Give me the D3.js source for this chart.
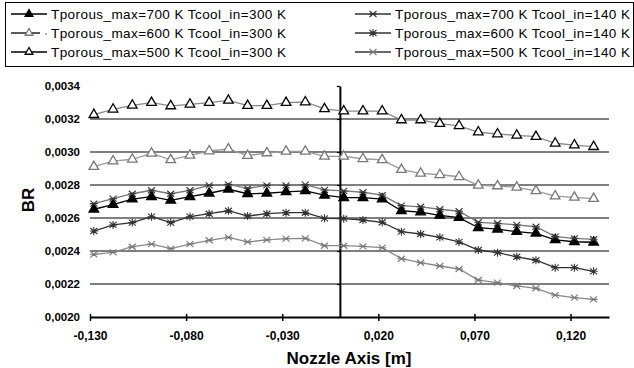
<!DOCTYPE html>
<html><head><meta charset="utf-8">
<script src="https://cdn.jsdelivr.net/npm/d3@7"></script>
<style>html,body{margin:0;padding:0;background:#fff;}svg{display:block;font-family:"Liberation Sans",Arial,sans-serif;}</style>
</head><body>
<svg id="c" width="634" height="368"></svg>
<script>
const xValues = [-0.128,-0.118,-0.108,-0.098,-0.088,-0.078,-0.068,-0.058,-0.048,-0.038,-0.028,-0.018,-0.008,0.002,0.012,0.022,0.032,0.042,0.052,0.062,0.072,0.082,0.092,0.102,0.112,0.122,0.132];
const seriesNames = ["Tporous_max=700 K Tcool_in=300 K","Tporous_max=600 K Tcool_in=300 K","Tporous_max=500 K Tcool_in=300 K","Tporous_max=700 K Tcool_in=140 K","Tporous_max=600 K Tcool_in=140 K","Tporous_max=500 K Tcool_in=140 K"];
const br700_300 = [0.002653,0.002681,0.002715,0.002729,0.002707,0.002729,0.002750,0.002774,0.002747,0.002750,0.002758,0.002764,0.002738,0.002723,0.002723,0.002715,0.002644,0.002636,0.002616,0.002602,0.002541,0.002532,0.002517,0.002507,0.002467,0.002456,0.002453];
const br600_300 = [0.002911,0.002945,0.002956,0.002992,0.002952,0.002980,0.003006,0.003018,0.002978,0.002994,0.003004,0.003004,0.002974,0.002974,0.002959,0.002952,0.002893,0.002871,0.002862,0.002850,0.002798,0.002794,0.002786,0.002764,0.002733,0.002725,0.002717];
const br500_300 = [0.003226,0.003259,0.003283,0.003299,0.003279,0.003289,0.003299,0.003313,0.003281,0.003281,0.003299,0.003303,0.003261,0.003248,0.003248,0.003248,0.003194,0.003194,0.003172,0.003159,0.003121,0.003109,0.003101,0.003093,0.003053,0.003042,0.003032];
const br700_140 = [0.002687,0.002717,0.002747,0.002768,0.002747,0.002768,0.002798,0.002804,0.002780,0.002798,0.002798,0.002802,0.002770,0.002764,0.002756,0.002739,0.002675,0.002668,0.002653,0.002641,0.002574,0.002568,0.002558,0.002547,0.002487,0.002477,0.002471];
const br600_140 = [0.002521,0.002558,0.002572,0.002608,0.002572,0.002608,0.002626,0.002644,0.002612,0.002626,0.002632,0.002632,0.002598,0.002596,0.002588,0.002574,0.002517,0.002503,0.002483,0.002455,0.002406,0.002390,0.002365,0.002344,0.002299,0.002299,0.002277];
const br500_140 = [0.002380,0.002392,0.002426,0.002442,0.002414,0.002442,0.002465,0.002483,0.002455,0.002467,0.002475,0.002477,0.002432,0.002432,0.002428,0.002420,0.002353,0.002329,0.002309,0.002291,0.002224,0.002208,0.002188,0.002174,0.002133,0.002117,0.002107];
const xTicks = [-0.13,-0.08,-0.03,0.02,0.07,0.12];
const yTicks = [0.0020,0.0022,0.0024,0.0026,0.0028,0.0030,0.0032,0.0034];
const xTitle = "Nozzle Axis [m]";
const yTitle = "BR";

const styles = [
  {values: br700_300, line:"#000", marker:"triFill", mstroke:"#000", mfill:"#000"},
  {values: br600_300, line:"#999", marker:"tri", mstroke:"#777", mfill:"#fff", legendBroken:true},
  {values: br500_300, line:"#888", marker:"tri", mstroke:"#000", mfill:"#fff"},
  {values: br700_140, line:"#777", marker:"x", mstroke:"#333", mfill:"none"},
  {values: br600_140, line:"#333", marker:"star", mstroke:"#333", mfill:"none"},
  {values: br500_140, line:"#888", marker:"x", mstroke:"#777", mfill:"none"}
];

const svg = d3.select("#c");
const x = d3.scaleLinear().domain([-0.13, 0.14]).range([90, 609]);
const y = d3.scaleLinear().domain([0.0020, 0.0034]).range([317, 86]);
const loc = d3.formatLocale({decimal:",", thousands:".", grouping:[3], currency:["",""], minus:"-"});

// gridlines
svg.append("g").selectAll("line").data(yTicks.filter(v => v > 0.00201 && v < 0.00339)).join("line")
  .attr("x1", x(-0.13)).attr("x2", x(0.14)).attr("y1", d => y(d)).attr("y2", d => y(d))
  .attr("stroke", "#000").attr("stroke-width", 1.2);

// y labels
const ya = svg.append("g").attr("transform", "translate(80,0)")
  .call(d3.axisLeft(y).tickValues(yTicks).tickFormat(loc.format(".4f")).tickSize(0).tickPadding(0));
ya.select(".domain").remove();
ya.selectAll("text").attr("font-size", 11.5).attr("font-weight", "bold").attr("font-family", "Liberation Sans, Arial, sans-serif").attr("fill","#000");

// x axis
const xa = svg.append("g").attr("transform", `translate(0,${y(0.0020)})`)
  .call(d3.axisBottom(x).tickValues(xTicks).tickFormat(loc.format(".3f")).tickSizeInner(4).tickSizeOuter(0).tickPadding(10));
xa.select(".domain").attr("stroke-width", 2).attr("stroke","#000");
xa.selectAll(".tick line").attr("y1", -3).attr("y2", 4).attr("stroke-width", 1.5);
xa.selectAll("text").attr("font-size", 12).attr("font-weight", "bold").attr("font-family", "Liberation Sans, Arial, sans-serif").attr("fill","#000");

// vertical axis at x=0
const va = svg.append("g").attr("transform", `translate(${x(0)},0)`)
  .call(d3.axisLeft(y).tickValues(yTicks).tickFormat("").tickSizeInner(3).tickSizeOuter(0));
va.select(".domain").attr("stroke-width", 2).attr("stroke","#000");
va.selectAll(".tick line").attr("stroke-width", 1.2);

// markers
function drawMarker(g, type, stroke, fill, size) {
  if (type === "tri" || type === "triFill") {
    g.append("path").attr("d", d3.symbol(d3.symbolTriangle, size)())
      .attr("fill", fill).attr("stroke", stroke).attr("stroke-width", 1.3);
  } else if (type === "x") {
    g.append("path").attr("d", "M-3.5,-3 L3.5,3 M-3.5,3 L3.5,-3 M-4,0 L4,0").attr("stroke", stroke).attr("stroke-width", 1.1).attr("fill","none");
  } else if (type === "star") {
    g.append("path").attr("d", "M-3.5,-3 L3.5,3 M-3.5,3 L3.5,-3 M0,-4 L0,4 M-4,0 L4,0").attr("stroke", stroke).attr("stroke-width", 1.1).attr("fill","none");
  }
}

const line = d3.line().x((d, i) => x(xValues[i])).y(d => y(d));
styles.forEach(s => {
  const g = svg.append("g");
  g.append("path").datum(s.values).attr("d", line).attr("fill", "none").attr("stroke", s.line).attr("stroke-width", 1.3);
  g.selectAll("g.m").data(s.values).join("g").attr("class","m")
    .attr("transform", (d, i) => `translate(${x(xValues[i])},${y(d)})`)
    .each(function() { drawMarker(d3.select(this), s.marker, s.mstroke, s.mfill, 40); });
});

// titles
svg.append("text").attr("x", 349).attr("y", 364).attr("text-anchor", "middle")
  .attr("font-size", 17).attr("font-weight", "bold").text(xTitle);
svg.append("text").attr("transform", "translate(34,200) rotate(-90)").attr("text-anchor", "middle")
  .attr("font-size", 17).attr("font-weight", "bold").text(yTitle);

// legend
svg.append("rect").attr("x", 5.5).attr("y", 2.5).attr("width", 628).attr("height", 64).attr("fill", "#fff").attr("stroke", "#000").attr("stroke-width", 1);
const legPos = [[0,0],[0,1],[0,2],[1,0],[1,1],[1,2]];
styles.forEach((s, i) => {
  const col = legPos[i][0], row = legPos[i][1];
  const lx = col === 0 ? 11 : 355;
  const ly = 14 + row * 19;
  const g = svg.append("g");
  if (s.legendBroken) {
    g.append("line").attr("x1", lx).attr("x2", lx + 24).attr("y1", ly).attr("y2", ly).attr("stroke", "#000").attr("stroke-width", 1.3);
    g.append("line").attr("x1", lx + 24).attr("x2", lx + 29).attr("y1", ly).attr("y2", ly).attr("stroke", "#000").attr("stroke-width", 1.3);
    g.append("circle").attr("cx", lx + 35).attr("cy", ly + 1).attr("r", 0.8).attr("fill", "#555");
  } else {
    g.append("line").attr("x1", lx).attr("x2", lx + 36).attr("y1", ly).attr("y2", ly).attr("stroke", col === 0 ? "#000" : "#333").attr("stroke-width", 1.3);
  }
  const m = g.append("g").attr("transform", `translate(${lx + 18},${ly})`);
  drawMarker(m, s.marker, s.mstroke, s.mfill, 26);
  g.append("text").attr("x", lx + 40).attr("y", ly).attr("dy", "0.35em").attr("font-size", 13.5)
    .attr("textLength", 235).attr("lengthAdjust", "spacing").attr("fill", "#000").text(seriesNames[i]);
});
</script>
</body></html>
